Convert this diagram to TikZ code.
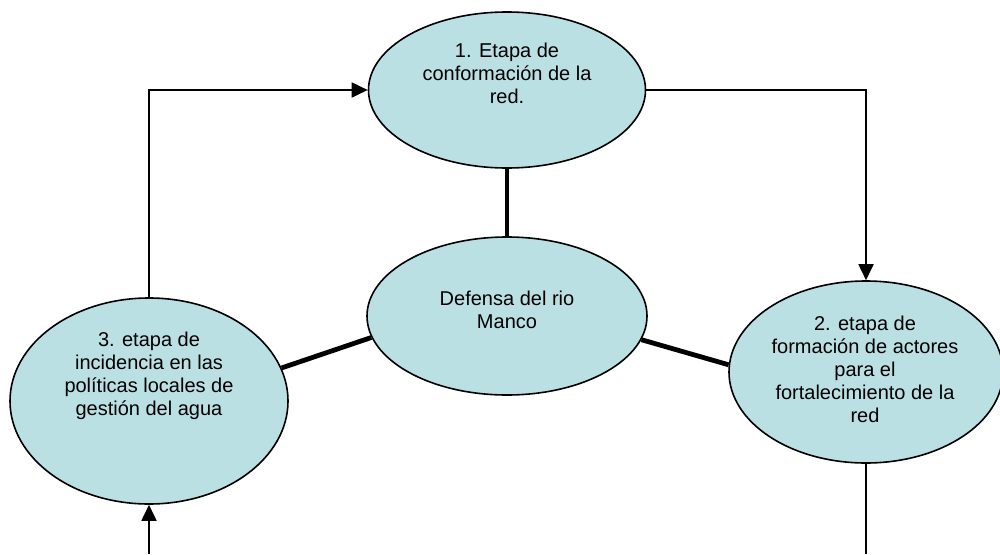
\documentclass[tikz,border=0pt]{standalone}
\usepackage{fontspec}
\setmainfont{Liberation Sans}
\usepackage{tikz}
\usetikzlibrary{arrows.meta, shapes.geometric, calc, positioning}
\definecolor{celeste}{RGB}{187,224,227}

\begin{document}
\begin{tikzpicture}[x=1pt,y=-1pt,
    etapa/.style={ellipse, draw, line width=1.6pt, fill=celeste, inner sep=0pt},
    texto/.style={align=center, font=\fontsize{20}{23}\selectfont},
    flecha/.style={line width=1.8pt, -{Triangle[length=16pt,width=15pt]}},
    linea/.style={line width=1.8pt},
    grueso/.style={line width=4.8pt}]

            \useasboundingbox (0,0) rectangle (1000,554);

            % Elipses
            \node[etapa, minimum width=277pt, minimum height=156pt] (etapa1) at (507,90) {};
            \node[etapa, minimum width=280pt, minimum height=158pt] (defensa) at (507,316) {};
            \node[etapa, minimum width=278pt, minimum height=206pt] (etapa3) at (149,401) {};
            \node[etapa, minimum width=274pt, minimum height=182pt] (etapa2) at (866,372) {};

            % Textos
            \node[texto] (t1) at (507,73) {1. Etapa de\\conformación de la\\red.};
            \node[texto] (t0) at (507,310) {Defensa del rio\\Manco};
            \node[texto] (t3) at (149,376) {3. etapa de\\incidencia en las\\políticas locales de\\gestión del agua};
            \node[texto] (t2) at (865,369) {2. etapa de\\formación de actores\\para el\\fortalecimiento de la\\red};

            % Líneas gruesas al centro
            \draw[grueso] (etapa1.south) -- (defensa.north);
            \draw[grueso] (defensa.189) -- (etapa3.14);
            \draw[grueso] (defensa.350) -- (etapa2.177);

            % Ciclo de etapas
            \coordinate (abajoDer) at (etapa2.south |- 0,554);
            \coordinate (abajoIzq) at (etapa3.south |- 0,554);
            \draw[flecha] (etapa3.north) |- (etapa1.west);
            \draw[flecha] (etapa1.east) -| (etapa2.north);
            \draw[linea] (etapa2.south) -- (abajoDer);
            \draw[flecha] (abajoIzq) -- (etapa3.south);

            \end{tikzpicture}
\end{document}
